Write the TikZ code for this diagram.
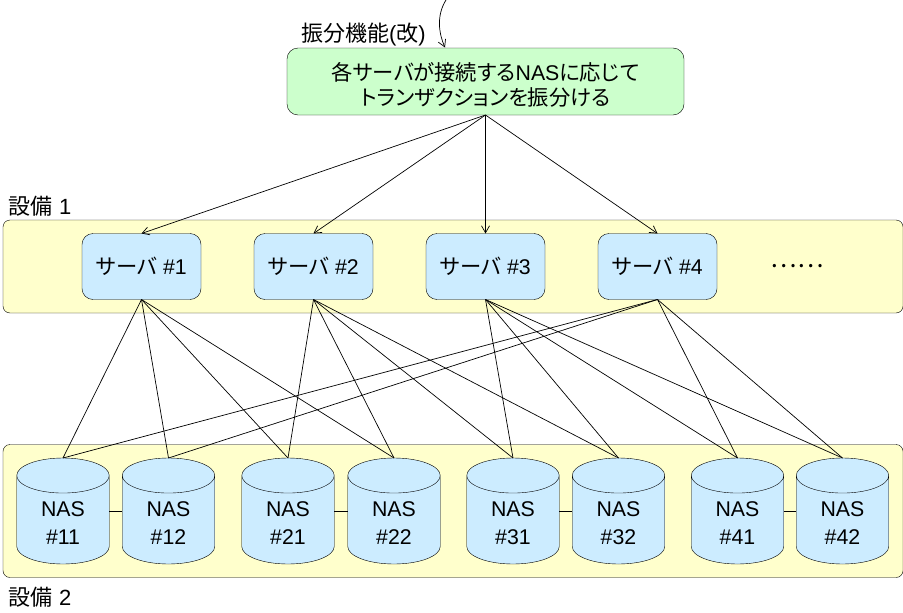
\documentclass[tikz,border=0pt]{standalone}
\usepackage{fontspec}
\setmainfont{Liberation Sans}
\newfontfamily\jpfont[RawFeature=+palt]{Noto Sans CJK JP}
\usetikzlibrary{shapes.geometric,arrows.meta}
\definecolor{rackfill}{HTML}{FFFFCC}
\definecolor{unitfill}{HTML}{CCECFF}
\definecolor{routefill}{HTML}{CCFFCC}
\newcommand{\jp}[1]{{\jpfont #1}}
\newcommand{\nasname}[1]{\rule{0pt}{21pt}NAS\\\##1}
\tikzset{
  base/.style={font=\fontsize{21.3}{25}\selectfont,inner sep=0pt,outer sep=0pt},
  rack/.style={base,draw,fill=rackfill,rounded corners=7pt,minimum width=900pt,minimum height=93pt},
  route/.style={base,draw,fill=routefill,rounded corners=11pt,minimum width=397pt,minimum height=67pt,align=center},
  server/.style={base,draw,fill=unitfill,rounded corners=11pt,minimum width=119pt,minimum height=66pt},
  nas/.style={base,draw,fill=unitfill,cylinder,shape border rotate=90,aspect=0.8,anchor=shape center,
    font=\fontsize{21.3}{28}\selectfont,minimum width=92.5pt,minimum height=106pt,align=center},
  caption/.style={base,anchor=west,font=\fontsize{22}{25}\selectfont},
  link/.style={line width=0.7pt},
  arrow/.style={line width=0.7pt,-{Straight Barb[length=7pt,width=8pt]}}
}
\begin{document}
\begin{tikzpicture}[x=1pt,y=-1pt]
  \useasboundingbox (0,0) rectangle (903,613);
  \draw
    (453,266.5) node[rack] (r1){}
    (453,511) node[rack,minimum height=133pt] (r2){};
  \draw
    (485.5,81.5) node[route] (fw){\rule{0pt}{25pt}\jp{各サーバが接続する}NAS\jp{に応じて}\\\jp{トランザクションを振分ける}}
    (301,35) node[caption] (fwlabel){\jp{振分機能}(\jp{改})}
    (9,206) node[caption] (r1label){\jp{設備} 1}
    (9,597) node[caption] (r2label){\jp{設備} 2}
    (797,266.5) node[base,font=\fontsize{25}{25}\selectfont] (more){\jp{……}};
  \draw
    (141.5,266.5) node[server] (s1){\jp{サーバ} \#1}
    (313.5,266.5) node[server] (s2){\jp{サーバ} \#2}
    (485.5,266.5) node[server] (s3){\jp{サーバ} \#3}
    (657.5,266.5) node[server] (s4){\jp{サーバ} \#4};
  \draw
    (63,511) node[nas] (n11){\nasname{11}}
    (168.5,511) node[nas] (n12){\nasname{12}}
    (288,511) node[nas] (n21){\nasname{21}}
    (394,511) node[nas] (n22){\nasname{22}}
    (513,511) node[nas] (n31){\nasname{31}}
    (618.5,511) node[nas] (n32){\nasname{32}}
    (737.5,511) node[nas] (n41){\nasname{41}}
    (842.5,511) node[nas] (n42){\nasname{42}};
  \coordinate (feed) at (446,0);
  \coordinate (feedend) at (445,47.5);
  \begin{scope}[arrow]
    \draw (feed) .. controls (436,16) and (439,34) .. (feedend);
    \draw (fw.south) to (s1.north);
    \draw (fw.south) to (s2.north);
    \draw (fw.south) to (s3.north);
    \draw (fw.south) to (s4.north);
  \end{scope}
  \begin{scope}[link]
    \draw (s1.south) to (n11.north);
    \draw (s1.south) to (n12.north);
    \draw (s1.south) to (n21.north);
    \draw (s1.south) to (n22.north);
    \draw (s2.south) to (n21.north);
    \draw (s2.south) to (n22.north);
    \draw (s2.south) to (n31.north);
    \draw (s2.south) to (n32.north);
    \draw (s3.south) to (n31.north);
    \draw (s3.south) to (n32.north);
    \draw (s3.south) to (n41.north);
    \draw (s3.south) to (n42.north);
    \draw (s4.south) to (n41.north);
    \draw (s4.south) to (n42.north);
    \draw (s4.south) to (n11.north);
    \draw (s4.south) to (n12.north);
    \draw (n11.east |- n11.shape center) to (n12.west |- n12.shape center);
    \draw (n21.east |- n21.shape center) to (n22.west |- n22.shape center);
    \draw (n31.east |- n31.shape center) to (n32.west |- n32.shape center);
    \draw (n41.east |- n41.shape center) to (n42.west |- n42.shape center);
  \end{scope}
\end{tikzpicture}
\end{document}
